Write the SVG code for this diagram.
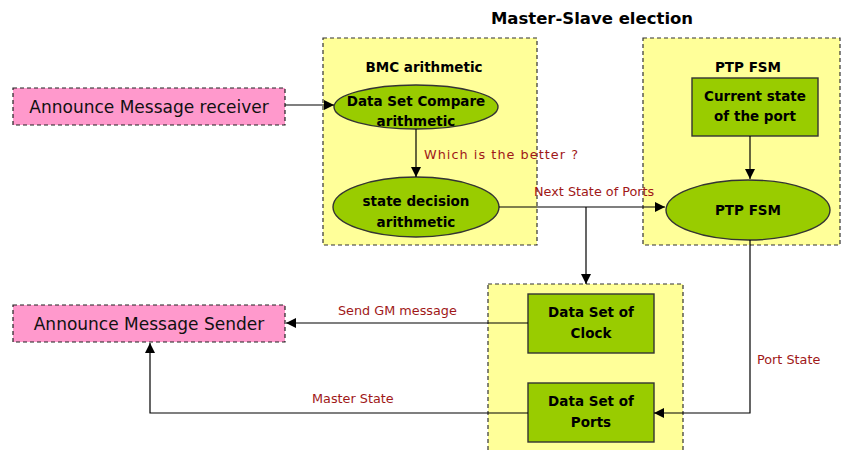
<svg xmlns="http://www.w3.org/2000/svg" width="847" height="450" viewBox="0 0 847 450">
  <defs>
    <marker id="arrow" viewBox="0 0 10 10" refX="10" refY="5" markerWidth="10" markerHeight="10" markerUnits="userSpaceOnUse" orient="auto">
      <path d="M0,0 L10,5 L0,10 z" fill="#000"/>
    </marker>
    <style>
      .group { fill: #ffff99; stroke: #333; stroke-width: 1.2; stroke-dasharray: 4 3; }
      .io { fill: #ff99cc; stroke: #222; stroke-width: 1.2; stroke-dasharray: 4 3; }
      .proc { fill: #99cc00; stroke: #333; stroke-width: 1.4; }
      .t { font-family: "DejaVu Sans", Verdana, sans-serif; text-anchor: middle; fill: #000; }
      .b { font-weight: bold; font-size: 13.5px; }
      .io-t { font-size: 17px; fill: #111; }
      .lbl { font-family: "DejaVu Sans", Verdana, sans-serif; font-size: 12.8px; fill: #a01818; }
      .wire { fill: none; stroke: #000; stroke-width: 1.2; }
    </style>
  </defs>

  <rect width="847" height="450" fill="#fff"/>

  <text class="t" x="592" y="24" font-weight="bold" font-size="16.5">Master-Slave election</text>

  <!-- containers -->
  <g id="bmc">
    <rect class="group" x="323" y="38" width="214" height="207"/>
    <text class="t b" x="424" y="72">BMC arithmetic</text>
  </g>
  <g id="ptp-fsm-group">
    <rect class="group" x="643" y="38" width="197" height="207"/>
    <text class="t b" x="748" y="72">PTP FSM</text>
  </g>
  <g id="datasets">
    <rect class="group" x="488" y="284" width="195" height="175"/>
  </g>

  <!-- external nodes -->
  <g id="receiver">
    <rect class="io" x="13" y="88" width="272" height="37"/>
    <text class="t io-t" x="149" y="113">Announce Message receiver</text>
  </g>
  <g id="sender">
    <rect class="io" x="13" y="305" width="272" height="37"/>
    <text class="t io-t" x="149" y="330">Announce Message Sender</text>
  </g>

  <!-- BMC nodes -->
  <g id="compare">
    <ellipse class="proc" cx="416" cy="107" rx="82" ry="22"/>
    <text class="t b" x="416" y="106">Data Set Compare</text>
    <text class="t b" x="416" y="126">arithmetic</text>
  </g>
  <g id="decision">
    <ellipse class="proc" cx="416" cy="207" rx="83" ry="30"/>
    <text class="t b" x="416" y="206">state decision</text>
    <text class="t b" x="416" y="227">arithmetic</text>
  </g>

  <!-- PTP FSM nodes -->
  <g id="current-state">
    <rect class="proc" x="692" y="78" width="126" height="58"/>
    <text class="t b" x="755" y="101">Current state</text>
    <text class="t b" x="755" y="121">of the port</text>
  </g>
  <g id="fsm">
    <ellipse class="proc" cx="748" cy="210" rx="82" ry="30"/>
    <text class="t b" x="748" y="215">PTP FSM</text>
  </g>

  <!-- data set nodes -->
  <g id="clock">
    <rect class="proc" x="528" y="294" width="126" height="59"/>
    <text class="t b" x="591" y="317">Data Set of</text>
    <text class="t b" x="591" y="338">Clock</text>
  </g>
  <g id="ports">
    <rect class="proc" x="528" y="383" width="126" height="59"/>
    <text class="t b" x="591" y="406">Data Set of</text>
    <text class="t b" x="591" y="427">Ports</text>
  </g>

  <!-- connectors -->
  <g id="connectors">
    <path class="wire" d="M285,105 H334" marker-end="url(#arrow)"/>
    <path class="wire" d="M416,129 V177" marker-end="url(#arrow)"/>
    <path class="wire" d="M499,207 H665" marker-end="url(#arrow)"/>
    <path class="wire" d="M586,207 V284" marker-end="url(#arrow)"/>
    <path class="wire" d="M750,136 V179" marker-end="url(#arrow)"/>
    <path class="wire" d="M750,240 V413 H654" marker-end="url(#arrow)"/>
    <path class="wire" d="M528,323 H286" marker-end="url(#arrow)"/>
    <path class="wire" d="M528,413 H150 V343" marker-end="url(#arrow)"/>

    <text class="lbl" x="424" y="159" textLength="154">Which is the better ?</text>
    <text class="lbl" x="534" y="196">Next State of Ports</text>
    <text class="lbl" x="338" y="315">Send GM message</text>
    <text class="lbl" x="312" y="403">Master State</text>
    <text class="lbl" x="757" y="364">Port State</text>
  </g>
</svg>
